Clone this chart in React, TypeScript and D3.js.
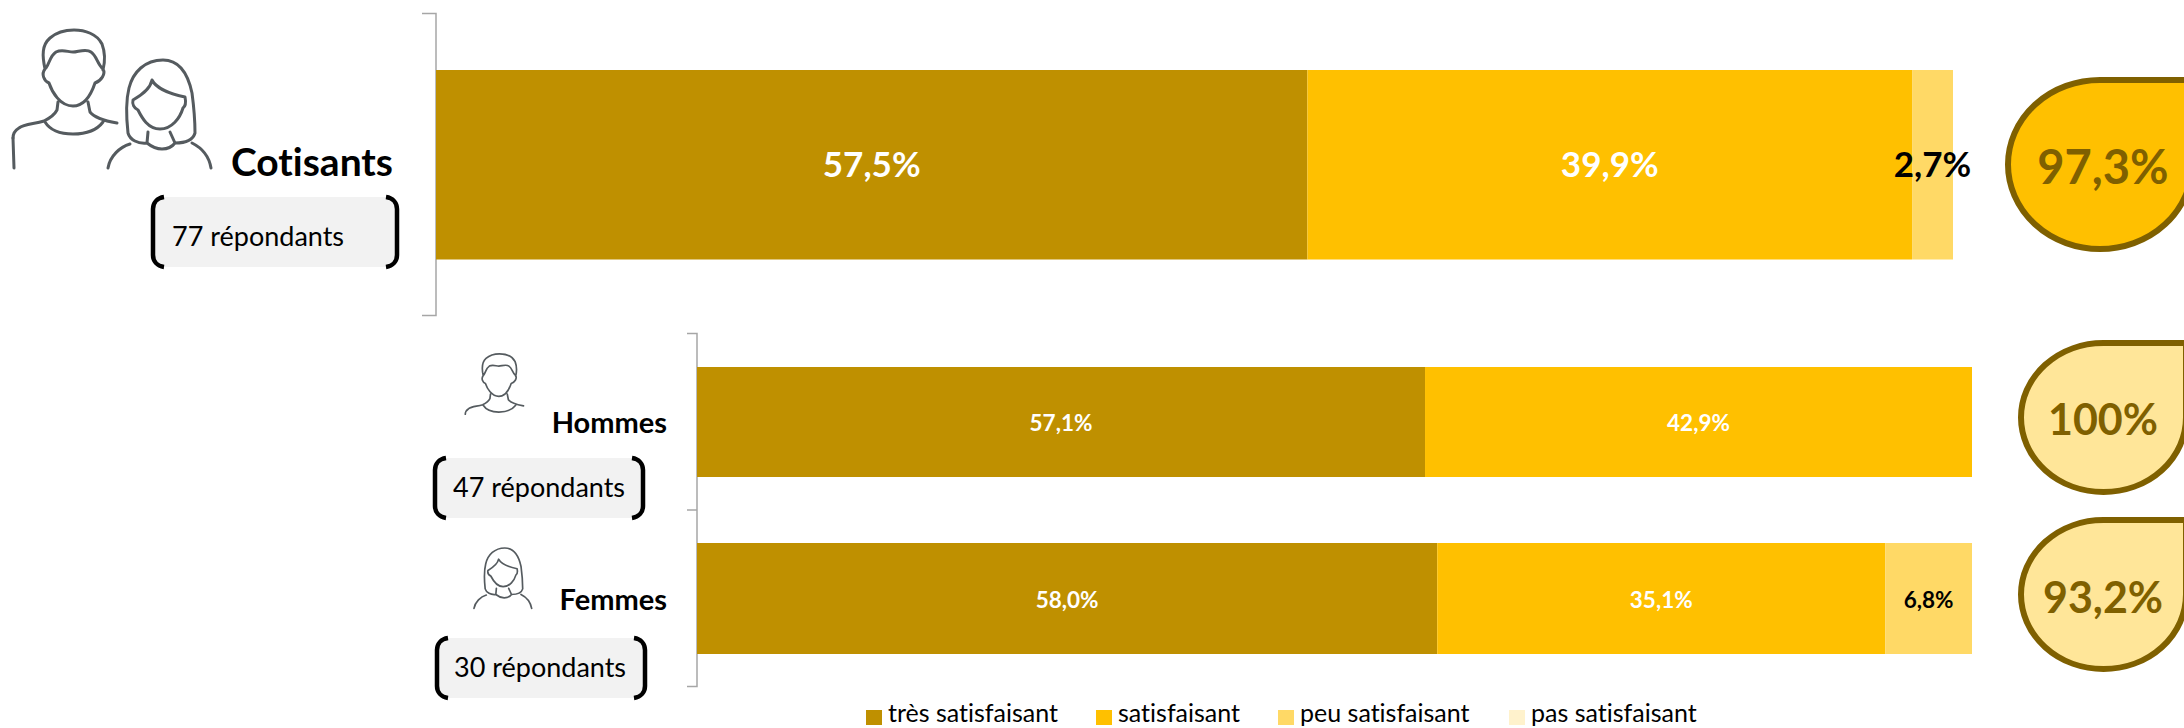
import React, { useMemo } from "react";
import * as d3 from "d3";

// Survey results, in percent, one entry per group
const groups = ["Cotisants", "Hommes", "Femmes"];
const respondents = ["77 répondants", "47 répondants", "30 répondants"];
const tresSatisfaisant = [57.5, 57.1, 58.0];
const satisfaisant = [39.9, 42.9, 35.1];
const peuSatisfaisant = [2.7, 0, 6.8];
const pasSatisfaisant = [0, 0, 0];
const totals = ["97,3%", "100%", "93,2%"];

const levels = ["très satisfaisant", "satisfaisant", "peu satisfaisant", "pas satisfaisant"];
const levelColors = ["#bf9000", "#ffc000", "#ffd966", "#fff2cc"];
const levelValues = [tresSatisfaisant, satisfaisant, peuSatisfaisant, pasSatisfaisant];

const FONT = "Lato, Carlito, sans-serif";
const DROP_STROKE = "#7f6000";

// Row layout
const rows = [
  { x0: 436, x1: 1953, y0: 70, y1: 259.5, size: 35, dy: 12 },
  { x0: 697, x1: 1972, y0: 367, y1: 477, size: 22.5, dy: 9 },
  { x0: 697, x1: 1972, y0: 543, y1: 654, size: 22.5, dy: 9 },
];

const drops = [
  { left: 2008, right: 2192, top: 80, bottom: 249, fill: "#ffc000", textY: 184, textSize: 47 },
  { left: 2021, right: 2186, top: 343, bottom: 492, fill: "#ffe699", textY: 435, textSize: 43 },
  { left: 2021, right: 2186, top: 520, bottom: 669, fill: "#ffe699", textY: 613, textSize: 43 },
];

const dropPath = (d: (typeof drops)[number]) => {
  const cx = (d.left + d.right) / 2;
  const cy = (d.top + d.bottom) / 2;
  const rx = (d.right - d.left) / 2;
  const ry = (d.bottom - d.top) / 2;
  const p = d3.path();
  p.moveTo(cx, d.top);
  p.lineTo(d.right, d.top);
  p.lineTo(d.right, cy);
  return (
    p.toString() +
    `A${rx},${ry} 0 0 1 ${cx},${d.bottom}A${rx},${ry} 0 0 1 ${d.left},${cy}A${rx},${ry} 0 0 1 ${cx},${d.top}Z`
  );
};

// Outline portraits
const MAN =
  "M45 69C42 55 42 45 50 38C58 31 68 30 74 30C85 30 97 34 102 44C105 52 105 62 103 70" +
  "M46 68C50 62 50 56 56 52C62 49 68 52 73 52C78 52 86 48 91 52C97 56 97 64 103 69" +
  "M45 69C41 74 44 81 49 83C52 92 60 106 73 106C86 106 92 92 95 83C101 81 106 74 103 69" +
  "M58 102L57 110C55 114 50 118 44 121C34 124 24 124 19 128C14 131 13 134 13 138" +
  "M45 122C50 130 60 134 73 134C86 134 97 130 103 122" +
  "M88 102L90 112C93 116 100 120 117 123";
const MAN_ARM = "M13 138L14 168";
const WOMAN =
  "M128 133C126 115 126 100 129 88C133 72 145 60 163 60C180 60 188 74 192 93C194 108 195 120 195 133C193 140 186 143 175 143" +
  "M128 133C130 140 138 144 147 143" +
  "M133 100C140 96 150 90 152 80C156 88 170 94 185 97C186 102 186 106 183 108C180 118 172 129 160 129C148 129 142 118 138 110C134 108 132 104 133 100" +
  "M148 132L147 143C152 147 156 149 162 149C168 149 172 147 175 143L170 132" +
  "M130 144C120 147 110 156 108 168M192 143C202 148 209 156 211 168";

const bracketPath = (x0: number, x1: number, y0: number, y1: number) => {
  const w = 11;
  const r = 9;
  return (
    `M${x0 + w},${y0}C${x0 + 4},${y0 + 1} ${x0},${y0 + r - 3} ${x0},${y0 + r + 3}L${x0},${y1 - r - 3}C${x0},${y1 - r + 3} ${x0 + 4},${y1 - 1} ${x0 + w},${y1}` +
    `M${x1 - w},${y0}C${x1 - 4},${y0 + 1} ${x1},${y0 + r - 3} ${x1},${y0 + r + 3}L${x1},${y1 - r - 3}C${x1},${y1 - r + 3} ${x1 - 4},${y1 - 1} ${x1 - w},${y1}`
  );
};

const pills = [
  { x0: 153, x1: 397, y0: 197, y1: 267, textX: 172, textY: 246 },
  { x0: 435, x1: 643, y0: 458, y1: 518, textX: 453, textY: 497 },
  { x0: 437, x1: 645, y0: 638, y1: 698, textX: 454, textY: 677 },
];

const names = [
  { x: 393, y: 176, size: 39 },
  { x: 667, y: 433, size: 29 },
  { x: 667, y: 610, size: 29 },
];

const legendX = [866, 1096, 1278, 1509];

export default function App() {
  const segments = useMemo(() => {
    const table = groups.map((g, i) => ({
      group: g,
      "très satisfaisant": tresSatisfaisant[i],
      satisfaisant: satisfaisant[i],
      "peu satisfaisant": peuSatisfaisant[i],
      "pas satisfaisant": pasSatisfaisant[i],
    }));
    return d3.stack<any>().keys(levels)(table);
  }, []);

  return (
    <svg
      width={2184}
      height={728}
      viewBox="0 0 2184 728"
      style={{ position: "fixed", left: 0, top: 0, display: "block", background: "#fff", fontVariantLigatures: "none" }}
      fontFamily={FONT}
    >
      {/* Group brackets */}
      <g fill="none" stroke="#a6a6a6" strokeWidth={1.5}>
        <path d="M422 13.5H436V315.5H422" />
        <path d="M687 333.5H697V686.5H687M687 510H697" />
      </g>

      {/* Stacked bars */}
      {groups.map((g, i) => {
        const row = rows[i];
        const total = d3.sum(levelValues, (v) => v[i]);
        const x = d3.scaleLinear().domain([0, total]).range([row.x0, row.x1]);
        const midY = (row.y0 + row.y1) / 2;
        return (
          <g key={g}>
            {segments.map((s, k) => {
              const [a, b] = s[i];
              if (b - a <= 0) return null;
              return (
                <rect
                  key={s.key}
                  x={x(a)}
                  y={row.y0}
                  width={x(b) - x(a)}
                  height={row.y1 - row.y0}
                  fill={levelColors[k]}
                />
              );
            })}
            {segments.map((s, k) => {
              const [a, b] = s[i];
              if (b - a <= 0) return null;
              return (
                <text
                  key={s.key}
                  x={x((a + b) / 2)}
                  y={midY + row.dy}
                  textAnchor="middle"
                  fontWeight={700}
                  fontSize={row.size}
                  fill={k >= 2 ? "#000" : "#fff"}
                >
                  {levelValues[k][i].toFixed(1).replace(".", ",")}%
                </text>
              );
            })}
          </g>
        );
      })}

      {/* Overall satisfaction drops */}
      {drops.map((d, i) => (
        <g key={totals[i]}>
          <path d={dropPath(d)} fill={d.fill} stroke={DROP_STROKE} strokeWidth={6} />
          <text
            x={2103}
            y={d.textY}
            textAnchor="middle"
            fontWeight={700}
            fontSize={d.textSize}
            fill={DROP_STROKE}
          >
            {totals[i]}
          </text>
        </g>
      ))}

      {/* Portraits */}
      <g fill="none" stroke="#555b5f" strokeLinecap="round" strokeLinejoin="round">
        <g strokeWidth={3}>
          <path d={MAN} />
          <path d={MAN_ARM} />
          <path d={WOMAN} />
        </g>
        <path d={MAN} transform="translate(458 337) scale(0.56)" strokeWidth={3} />
        <path d={WOMAN} transform="translate(413.5 514.4) scale(0.56)" strokeWidth={3} />
      </g>

      {/* Group names */}
      {groups.map((g, i) => (
        <text
          key={g}
          x={names[i].x}
          y={names[i].y}
          textAnchor="end"
          fontWeight={700}
          fontSize={names[i].size}
          fill="#000"
        >
          {g}
        </text>
      ))}

      {/* Respondent counts */}
      {pills.map((p, i) => (
        <g key={respondents[i]}>
          <rect x={p.x0 + 2} y={p.y0} width={p.x1 - p.x0 - 4} height={p.y1 - p.y0} fill="#f2f2f2" rx={6} />
          <path d={bracketPath(p.x0, p.x1, p.y0, p.y1)} fill="none" stroke="#000" strokeWidth={4.5} />
          <text x={p.textX} y={p.textY} fontSize={27} fill="#000">
            {respondents[i]}
          </text>
        </g>
      ))}

      {/* Legend */}
      {levels.map((l, i) => (
        <g key={l}>
          <rect x={legendX[i]} y={710} width={16} height={15} fill={levelColors[i]} />
          <text x={legendX[i] + 22} y={722} fontSize={25} fill="#000">
            {l}
          </text>
        </g>
      ))}
    </svg>
  );
}
